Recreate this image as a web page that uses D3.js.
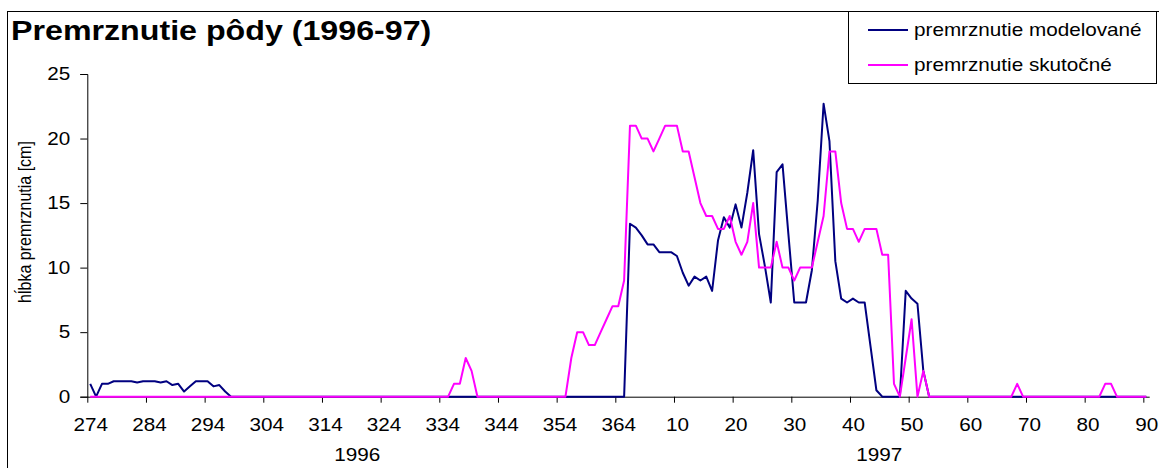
<!DOCTYPE html>
<html>
<head>
<meta charset="utf-8">
<script src="https://cdn.jsdelivr.net/npm/d3@7"></script>
<style>
  body { margin: 0; background: #fff; }
  svg { display: block; font-family: "Liberation Sans", Arial, sans-serif; }
</style>
</head>
<body>
<div id="chart"></div>
<script>
const width = 1159;
const height = 468;

// series values, one per day (index 0 = day 274 of 1996)
const modelovane = [
  1.0, 0, 1.0, 1.0, 1.2, 1.2, 1.2, 1.2, 1.1, 1.2,
  1.2, 1.2, 1.1, 1.2, 0.9, 1.0, 0.4, 0.8, 1.2, 1.2,
  1.2, 0.8, 0.9, 0.4, 0, 0, 0, 0, 0, 0,
  0, 0, 0, 0, 0, 0, 0, 0, 0, 0,
  0, 0, 0, 0, 0, 0, 0, 0, 0, 0,
  0, 0, 0, 0, 0, 0, 0, 0, 0, 0,
  0, 0, 0, 0, 0, 0, 0, 0, 0, 0,
  0, 0, 0, 0, 0, 0, 0, 0, 0, 0,
  0, 0, 0, 0, 0, 0, 0, 0, 0, 0,
  0, 0, 13.4, 13.1, 12.5, 11.8, 11.8, 11.2, 11.2, 11.2,
  10.9, 9.6, 8.6, 9.3, 9.0, 9.3, 8.2, 12.1, 13.9, 13.1,
  14.9, 13.1, 15.8, 19.1, 12.6, 10.1, 7.3, 17.4, 18.0, 12.6,
  7.3, 7.3, 7.3, 9.8, 15.2, 22.7, 19.8, 10.5, 7.6, 7.3,
  7.6, 7.3, 7.3, 3.9, 0.5, 0, 0, 0, 0, 8.2,
  7.6, 7.2, 2.0, 0, 0, 0, 0, 0, 0, 0,
  0, 0, 0, 0, 0, 0, 0, 0, 0, 0,
  0, 0, 0, 0, 0, 0, 0, 0, 0, 0,
  0, 0, 0, 0, 0, 0, 0, 0, 0, 0,
  0
];

const skutocne = [
  0, 0, 0, 0, 0, 0, 0, 0, 0, 0,
  0, 0, 0, 0, 0, 0, 0, 0, 0, 0,
  0, 0, 0, 0, 0, 0, 0, 0, 0, 0,
  0, 0, 0, 0, 0, 0, 0, 0, 0, 0,
  0, 0, 0, 0, 0, 0, 0, 0, 0, 0,
  0, 0, 0, 0, 0, 0, 0, 0, 0, 0,
  0, 0, 1, 1, 3, 2, 0, 0, 0, 0,
  0, 0, 0, 0, 0, 0, 0, 0, 0, 0,
  0, 0, 3, 5, 5, 4, 4, 5, 6, 7,
  7, 9, 21, 21, 20, 20, 19, 20, 21, 21,
  21, 19, 19, 17, 15, 14, 14, 13, 13, 14,
  12, 11, 12, 15, 10, 10, 10, 12, 10, 10,
  9, 10, 10, 10, 12, 14, 19, 19, 15, 13,
  13, 12, 13, 13, 13, 11, 11, 1, 0, 3,
  6, 0, 2, 0, 0, 0, 0, 0, 0, 0,
  0, 0, 0, 0, 0, 0, 0, 0, 1, 0,
  0, 0, 0, 0, 0, 0, 0, 0, 0, 0,
  0, 0, 0, 1, 1, 0, 0, 0, 0, 0,
  0
];

// x tick labels, one every 10 days
const dayLabels = [274, 284, 294, 304, 314, 324, 334, 344, 354, 364,
  10, 20, 30, 40, 50, 60, 70, 80, 90];
const years = ["1996", "1997"];
const yearCenters = [46, 135];   // in day-index units
const yTicks = [0, 5, 10, 15, 20, 25];

const seriesNames = ["premrznutie modelované", "premrznutie skutočné"];
const colors = ["#000080", "#ff00ff"];

const sx = 1.15; // the original picture is a bit wider than tall

const svg = d3.select("#chart").append("svg")
  .attr("width", width)
  .attr("height", height);

// chart frame
svg.append("rect")
  .attr("x", 7.5).attr("y", 11.5)
  .attr("width", 1170).attr("height", 480)
  .attr("fill", "#fff").attr("stroke", "#000");

const x = d3.scaleLinear().domain([0, modelovane.length]).range([87.3, 1149.2]);
const y = d3.scaleLinear().domain([0, 25]).range([396.7, 74]);

// title
svg.append("text")
  .attr("transform", `translate(11,40) scale(${sx},1)`)
  .attr("font-size", 28)
  .attr("font-weight", "bold")
  .text("Premrznutie pôdy (1996-97)");

// y axis
const gy = svg.append("g")
  .attr("transform", `translate(${x(0)},0)`)
  .call(d3.axisLeft(y).tickValues(yTicks).tickSize(7).tickPadding(10));
gy.select(".domain").attr("stroke", "#000");
gy.selectAll(".tick line").attr("stroke", "#000");
gy.selectAll(".tick text")
  .attr("font-size", 18)
  .attr("font-family", "Liberation Sans, Arial, sans-serif")
  .attr("fill", "#000")
  .attr("transform", `scale(${sx},1)`)
  .attr("x", -17 / sx);

svg.append("text")
  .attr("transform", `translate(31,222) rotate(-90) scale(1,${sx})`)
  .attr("text-anchor", "middle")
  .attr("font-size", 16)
  .text("hĺbka premrznutia [cm]");

// x axis: ticks on category boundaries, labels centred in the category
const tickIdx = dayLabels.map((d, i) => i * 10);
const gx = svg.append("g")
  .attr("transform", `translate(0,${y(0)})`)
  .call(d3.axisBottom(x).tickValues(tickIdx).tickSize(6).tickSizeOuter(0)
    .tickFormat((d, i) => dayLabels[i]));
gx.select(".domain").attr("stroke", "#000");
gx.selectAll(".tick line").attr("stroke", "#000");
const half = x(0.5) - x(0);
gx.selectAll(".tick text")
  .attr("font-size", 18)
  .attr("font-family", "Liberation Sans, Arial, sans-serif")
  .attr("fill", "#000")
  .attr("dy", null)
  .attr("y", 34)
  .attr("transform", `translate(${half},0) scale(${sx},1)`);

svg.selectAll(".year")
  .data(years)
  .join("text")
  .attr("class", "year")
  .attr("transform", (d, i) => `translate(${x(yearCenters[i])},461) scale(${sx},1)`)
  .attr("text-anchor", "middle")
  .attr("font-size", 18)
  .text(d => d);

// lines
const line = d3.line()
  .x((d, i) => x(i + 0.5))
  .y(d => y(d));

[modelovane, skutocne].forEach((s, k) => {
  svg.append("path")
    .datum(s)
    .attr("fill", "none")
    .attr("stroke", colors[k])
    .attr("stroke-width", 2)
    .attr("stroke-linejoin", "round")
    .attr("d", line);
});

// legend
const lg = svg.append("g");
lg.append("rect")
  .attr("x", 848.5).attr("y", 11.5)
  .attr("width", 308).attr("height", 72)
  .attr("fill", "#fff").attr("stroke", "#000");
seriesNames.forEach((name, k) => {
  const ly = 30 + k * 35;
  lg.append("line")
    .attr("x1", 868).attr("x2", 908)
    .attr("y1", ly).attr("y2", ly)
    .attr("stroke", colors[k]).attr("stroke-width", 2);
  lg.append("text")
    .attr("transform", `translate(914,${ly + 6}) scale(${sx},1)`)
    .attr("font-size", 18)
    .text(name);
});
</script>
</body>
</html>
